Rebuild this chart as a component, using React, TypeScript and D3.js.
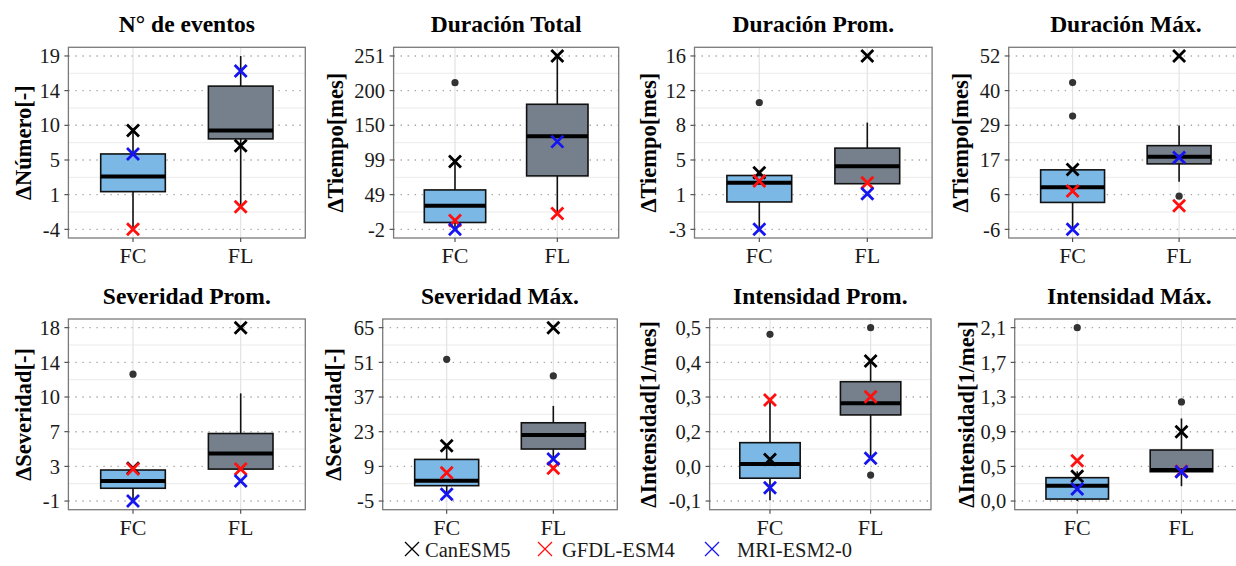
import React from "react";
import * as d3 from "d3";

// ---------- DATA ----------
const categories = ["FC", "FL"];

const panelTitles = [
  "N° de eventos", "Duración Total", "Duración Prom.", "Duración Máx.",
  "Severidad Prom.", "Severidad Máx.", "Intensidad Prom.", "Intensidad Máx.",
];

const yTitles = [
  "ΔNúmero[-]", "ΔTiempo[mes]", "ΔTiempo[mes]", "ΔTiempo[mes]",
  "ΔSeveridad[-]", "ΔSeveridad[-]", "ΔIntensidad[1/mes]", "ΔIntensidad[1/mes]",
];

// axis range (first and last tick) for each panel
const yDomains = [
  [-4, 19], [-2, 251], [-3, 16], [-6, 52],
  [-1, 18], [-5, 65], [-0.1, 0.5], [0, 2.1],
];

const yTickLabels = [
  ["-4", "1", "5", "10", "14", "19"],
  ["-2", "49", "99", "150", "200", "251"],
  ["-3", "1", "5", "8", "12", "16"],
  ["-6", "6", "17", "29", "40", "52"],
  ["-1", "3", "7", "10", "14", "18"],
  ["-5", "9", "23", "37", "51", "65"],
  ["-0,1", "0,0", "0,2", "0,3", "0,4", "0,5"],
  ["0,0", "0,5", "0,9", "1,3", "1,7", "2,1"],
];

// box stats [lowerWhisker, q1, median, q3, upperWhisker]
const boxFC = [
  [-4, 1.0, 3.0, 6.0, 9.4],
  [-2, 8, 32.5, 55.5, 97],
  [-3, 0, 2.1, 2.9, 3.3],
  [-6, 3.0, 8.1, 13.9, 14.5],
  [-1, 0.4, 1.2, 2.4, 2.4],
  [-2.3, 1.2, 3.2, 11.8, 17.3],
  [-0.097, -0.021, 0.028, 0.102, 0.25],
  [0.0, 0.024, 0.186, 0.283, 0.36],
];
const boxFL = [
  [-1.0, 8.0, 9.1, 15.0, 19],
  [21, 76, 134, 180.5, 251],
  [2.0, 2.0, 3.9, 5.9, 8.7],
  [9.9, 15.9, 18.3, 22, 28.7],
  [2.5, 2.5, 4.2, 6.4, 10.8],
  [12, 16, 21.7, 26.6, 33.4],
  [0.05, 0.198, 0.238, 0.313, 0.385],
  [0.18, 0.355, 0.376, 0.618, 1.0],
];
const outliersFC = [[], [212], [10.9], [43.1, 31.9], [12.9], [52.2], [0.477], [2.1]];
const outliersFL = [[], [], [], [5.1], [], [45.5], [0.5, -0.01], [1.2]];

// model markers [FC, FL]
const canESM5 = [
  [9.1, 7.1], [97, 251], [3.2, 16], [14, 52],
  [2.6, 18], [17.3, 65], [0.044, 0.385], [0.30, 0.84],
];
const gfdlESM4 = [
  [-4, -1.0], [11, 21], [2.3, 2.1], [6.8, 1.9],
  [2.5, 2.5], [6.4, 8.2], [0.25, 0.261], [0.489, 0.36],
];
const mriESM2 = [
  [6.0, 17.0], [-2, 126], [-3, 0.9], [-6, 18],
  [-1, 1.2], [-2.3, 12], [-0.054, 0.048], [0.145, 0.355],
];

const models = [
  { name: "CanESM5", values: canESM5, color: "#000000" },
  { name: "GFDL-ESM4", values: gfdlESM4, color: "#FF1010" },
  { name: "MRI-ESM2-0", values: mriESM2, color: "#1515F0" },
];

// ---------- LAYOUT ----------
const W = 1236;
const H = 566;
const FONT = "'Liberation Serif', 'Times New Roman', serif";
const panelX = [
  [68.4, 305.3], [393.6, 618.7], [694.5, 932.1], [1008.7, 1243],
  [68.4, 305.3], [382.7, 617.3], [709.6, 931], [1014.7, 1244],
];
const rowY = [[47.3, 238], [319, 509.7]];
const yTitleX = [23, 335, 648, 960, 23, 333, 648, 966];
const titleBaseline = [32, 304];
const xLabelBaseline = [263, 535];
const fillColors = { FC: "#7BB8E6", FL: "#76808D" };

function Cross({ x, y, r, color, sw }) {
  return (
    <path
      d={`M${x - r},${y - r}L${x + r},${y + r}M${x - r},${y + r}L${x + r},${y - r}`}
      stroke={color}
      strokeWidth={sw}
      fill="none"
    />
  );
}

function Panel({ i }) {
  const row = i < 4 ? 0 : 1;
  const [x0, x1] = panelX[i];
  const [y0, y1] = rowY[row];
  const x = d3.scalePoint().domain(categories).range([x0, x1]).padding(0.6);
  const [dmin, dmax] = yDomains[i];
  const pad = (dmax - dmin) * 0.05;
  const y = d3.scaleLinear().domain([dmin - pad, dmax + pad]).range([y1, y0]);
  const ticks = d3.range(6).map((k) => dmin + (k * (dmax - dmin)) / 5);
  const minor = d3.range(5).map((k) => (ticks[k] + ticks[k + 1]) / 2);
  const bw = x.step() * 0.6;
  const boxes = [boxFC[i], boxFL[i]];
  const outs = [outliersFC[i], outliersFL[i]];
  const cx = (x0 + x1) / 2;
  const cy = (y0 + y1) / 2;

  return (
    <g>
      <rect x={x0} y={y0} width={x1 - x0} height={y1 - y0} fill="#fff" />
      {minor.map((v, k) => (
        <line key={"mn" + k} x1={x0} x2={x1} y1={y(v)} y2={y(v)} stroke="#ebebeb" strokeWidth={1} />
      ))}
      {ticks.map((v, k) => (
        <line key={"mj" + k} x1={x0} x2={x1} y1={y(v)} y2={y(v)} stroke="#a8a8a8" strokeWidth={1.4} strokeDasharray="1.4,5.6" />
      ))}
      {categories.map((c) => (
        <line key={"vg" + c} x1={x(c)} x2={x(c)} y1={y0} y2={y1} stroke="#e3e3e3" strokeWidth={1.2} />
      ))}
      {categories.map((c, k) => {
        const [lw, q1, med, q3, uw] = boxes[k];
        const xc = x(c);
        return (
          <g key={"bx" + c}>
            <line x1={xc} x2={xc} y1={y(q3)} y2={y(uw)} stroke="#111" strokeWidth={1.6} />
            <line x1={xc} x2={xc} y1={y(q1)} y2={y(lw)} stroke="#111" strokeWidth={1.6} />
            <rect x={xc - bw / 2} y={y(q3)} width={bw} height={Math.max(0, y(q1) - y(q3))} fill={fillColors[c]} stroke="#111" strokeWidth={1.6} />
            <line x1={xc - bw / 2} x2={xc + bw / 2} y1={y(med)} y2={y(med)} stroke="#000" strokeWidth={4} />
            {outs[k].map((o, m) => (
              <circle key={m} cx={xc} cy={y(o)} r={3.6} fill="#333" />
            ))}
          </g>
        );
      })}
      {models.map((m) =>
        categories.map((c, k) => (
          <Cross key={m.name + c} x={x(c)} y={y(m.values[i][k])} r={6} color={m.color} sw={2.8} />
        ))
      )}
      <rect x={x0} y={y0} width={x1 - x0} height={y1 - y0} fill="none" stroke="#7a7a7a" strokeWidth={1.3} />
      {ticks.map((v, k) => (
        <g key={"yt" + k}>
          <line x1={x0 - 4} x2={x0} y1={y(v)} y2={y(v)} stroke="#444" strokeWidth={1.1} />
          <text x={x0 - 8.5} y={y(v)} dy="0.35em" textAnchor="end" fontFamily={FONT} fontSize={20.5} fill="#1a1a1a">
            {yTickLabels[i][k]}
          </text>
        </g>
      ))}
      {categories.map((c) => (
        <g key={"xt" + c}>
          <line x1={x(c)} x2={x(c)} y1={y1} y2={y1 + 4} stroke="#444" strokeWidth={1.1} />
          <text x={x(c)} y={xLabelBaseline[row]} textAnchor="middle" fontFamily={FONT} fontSize={22} fill="#1a1a1a">
            {c}
          </text>
        </g>
      ))}
      <text x={cx} y={titleBaseline[row]} textAnchor="middle" fontFamily={FONT} fontWeight="bold" fontSize={23.5} fill="#000">
        {panelTitles[i]}
      </text>
      <text
        transform={`translate(${yTitleX[i]},${cy}) rotate(-90)`}
        textAnchor="middle"
        dy="0.35em"
        fontFamily={FONT}
        fontWeight="bold"
        fontSize={22.5}
        fill="#000"
      >
        {yTitles[i]}
      </text>
    </g>
  );
}

const legendX = [412, 545, 712];
const legendTextX = [425, 562, 737];

export default function App() {
  return (
    <svg width={W} height={H} style={{ position: "absolute", left: 0, top: 0, display: "block", background: "#fff" }}>
      <rect x={0} y={0} width={W} height={H} fill="#fff" />
      {panelTitles.map((_, i) => (
        <Panel key={i} i={i} />
      ))}
      {models.map((m, k) => (
        <g key={m.name}>
          <Cross x={legendX[k]} y={549} r={7} color={m.color} sw={1.3} />
          <text x={legendTextX[k]} y={557} fontFamily={FONT} fontSize={20.5} fill="#1a1a1a">
            {m.name}
          </text>
        </g>
      ))}
    </svg>
  );
}
